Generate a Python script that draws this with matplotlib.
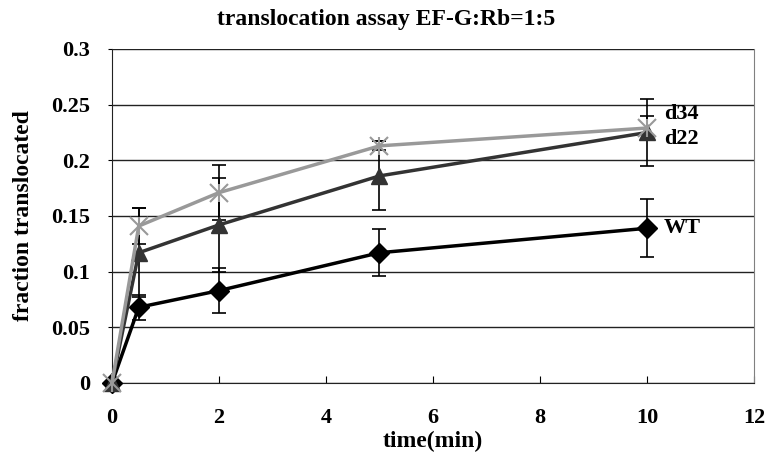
import matplotlib.pyplot as plt

plt.rcParams['font.family'] = ['Liberation Serif', 'DejaVu Serif']

time_min = [0, 0.5, 2, 5, 10]

wt = [0, 0.068, 0.083, 0.117, 0.139]
wt_err = [0, 0.011, 0.020, 0.021, 0.026]

d22 = [0, 0.117, 0.142, 0.186, 0.225]
d22_err = [0, 0.040, 0.042, 0.031, 0.030]

d34 = [0, 0.141, 0.171, 0.213, 0.229]
d34_err = [0, 0.016, 0.025, 0.004, 0.011]

series_labels = ["WT", "d22", "d34"]
label_offsets = [(12, 0), (12, -5), (12, 10)]


def initialize_axes():
	fig = plt.figure(figsize=(7.73, 4.54), dpi=100)
	ax = fig.add_axes([112 / 773, 1 - 383 / 454, (754 - 112) / 773, (383 - 49) / 454])
	ax.set_xlim(0, 12)
	ax.set_ylim(0, 0.3)
	ax.set_xticks([0, 2, 4, 6, 8, 10, 12])
	ax.set_yticks([0, 0.05, 0.1, 0.15, 0.2, 0.25, 0.3])
	ax.set_yticklabels(["0", "0.05", "0.1", "0.15", "0.2", "0.25", "0.3"])
	ax.tick_params(axis="x", direction="in", length=5, pad=18, labelsize=16)
	ax.tick_params(axis="y", direction="out", length=3, pad=13, labelsize=16)
	for lab in ax.get_xticklabels() + ax.get_yticklabels():
		lab.set_fontweight("bold")
	ax.grid(axis="y", color="#222222", linewidth=1)
	ax.set_axisbelow(True)
	ax.spines["top"].set_visible(False)
	ax.spines["right"].set_color("#808080")
	ax.spines["left"].set_color("#222222")
	ax.spines["bottom"].set_color("#222222")
	fig.text(0.5, 1 - 20 / 454, "translocation assay EF-G:Rb=1:5", fontsize=17,
		fontweight="bold", ha="center", va="center")
	ax.set_xlabel("time(min)", fontsize=17, fontweight="bold", labelpad=2)
	ax.set_ylabel("fraction translocated", fontsize=17, fontweight="bold", labelpad=12)
	return fig, ax


def draw(ax, y, err, color, marker, size):
	ax.errorbar(time_min, y, yerr=err, fmt="none", ecolor="black", elinewidth=1.2,
		capsize=5, capthick=1.2, zorder=3)
	return ax.plot(time_min, y, color=color, linewidth=2.5, marker=marker,
		markersize=size, markerfacecolor=color, markeredgecolor=color,
		zorder=4, clip_on=False)[0]


if __name__ == "__main__":
	fig, ax = initialize_axes()
	draw(ax, wt, wt_err, "black", "D", 10)
	draw(ax, d22, d22_err, "#333333", "^", 12)
	star = draw(ax, d34, d34_err, "#999999", "x", 13)
	star.set_markeredgewidth(1.5)
	ax.plot(time_min, d34, linestyle="none", marker="|", markersize=13,
		markeredgewidth=1.5, color="#999999", zorder=5, clip_on=False)
	for y, text, off in zip([wt, d22, d34], series_labels, label_offsets):
		ax.annotate(text, (time_min[-1], y[-1]), xytext=(off[0], off[1]),
			textcoords="offset points", fontsize=16, fontweight="bold",
			va="center", ha="left", clip_on=False)
	fig.savefig("out.png", dpi=100)
